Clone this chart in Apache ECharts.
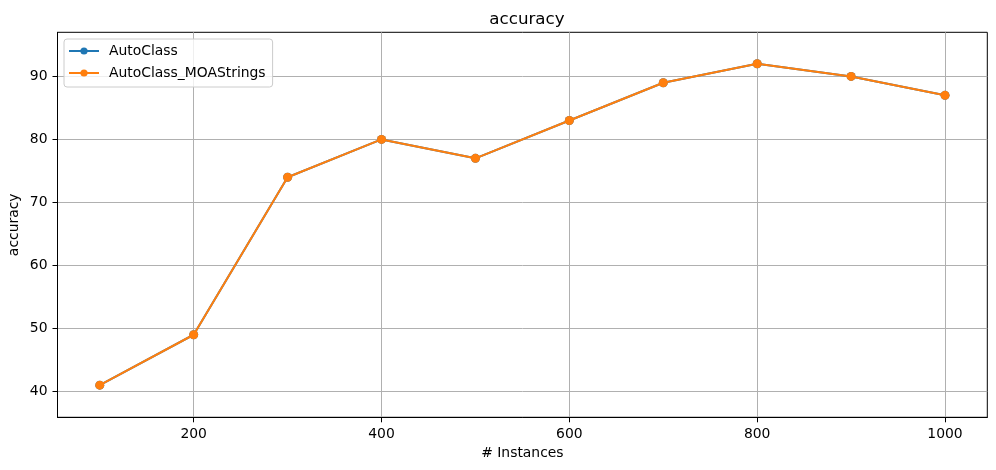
<!DOCTYPE html>
<html>
<head>
<meta charset="utf-8">
<script src="https://cdn.jsdelivr.net/npm/echarts@6/dist/echarts.min.js"></script>
<style>
html,body{margin:0;padding:0;background:#fff;}
#chart{width:996px;height:470px;}
</style>
</head>
<body>
<div id="chart"></div>
<script>
const instances = [100, 200, 300, 400, 500, 600, 700, 800, 900, 1000];
const autoClass = [41, 49, 74, 80, 77, 83, 89, 92, 90, 87];
const autoClassMOAStrings = [41, 49, 74, 80, 77, 83, 89, 92, 90, 87];
const xTicks = [200, 400, 600, 800, 1000];
const yTicks = [40, 50, 60, 70, 80, 90];
const seriesNames = ['AutoClass', 'AutoClass_MOAStrings'];

const font = 'DejaVu Sans';
const chart = echarts.init(document.getElementById('chart'), null, {renderer: 'canvas'});

function pairs(xs, ys) { return xs.map((x, i) => [x, ys[i]]); }

const axisCommon = {
  axisLine: {show: true, onZero: false, lineStyle: {color: '#000', width: 1}},
  axisTick: {show: true, inside: false, length: 5, lineStyle: {color: '#000', width: 1}},
  axisLabel: {color: '#000', fontFamily: font, fontSize: 13.9, margin: 10, formatter: v => String(v)},
  splitLine: {show: true, lineStyle: {color: '#b0b0b0', width: 1}},
  nameTextStyle: {color: '#000', fontFamily: font, fontSize: 13.9},
  nameMoveOverlap: false
};

chart.setOption({
  animation: false,
  backgroundColor: '#fff',
  title: {
    text: 'accuracy',
    left: 522,
    textAlign: 'center',
    top: 6,
    textStyle: {fontFamily: font, fontSize: 16.7, fontWeight: 'normal', color: '#000'}
  },
  legend: {
    orient: 'vertical',
    left: 64,
    top: 39,
    padding: [5, 7, 7, 4],
    itemWidth: 30,
    itemHeight: 9,
    itemGap: 8,
    backgroundColor: 'rgba(255,255,255,0.8)',
    borderColor: '#cccccc',
    borderWidth: 1,
    borderRadius: 3,
    textStyle: {fontFamily: font, fontSize: 13.9, color: '#000', padding: [0, 0, 0, 5]},
    data: seriesNames
  },
  grid: {left: 57.5, right: 8.7, top: 32.3, bottom: 52.7, containLabel: false, outerBoundsMode: 'none', show: true, borderColor: '#000', borderWidth: 1, backgroundColor: 'transparent'},
  xAxis: Object.assign({}, axisCommon, {
    type: 'value',
    min: 55,
    max: 1045,
    name: '# Instances',
    nameLocation: 'middle',
    nameGap: 29,
    axisTick: Object.assign({}, axisCommon.axisTick, {customValues: xTicks}),
    axisLabel: Object.assign({}, axisCommon.axisLabel, {customValues: xTicks})
  }),
  yAxis: Object.assign({}, axisCommon, {
    type: 'value',
    min: 35.9,
    max: 97,
    name: 'accuracy',
    nameLocation: 'middle',
    nameGap: 36,
    axisTick: Object.assign({}, axisCommon.axisTick, {customValues: yTicks}),
    axisLabel: Object.assign({}, axisCommon.axisLabel, {customValues: yTicks})
  }),
  series: [
    {
      name: seriesNames[0], type: 'line', data: pairs(instances, autoClass),
      symbol: 'circle', symbolSize: 9, showSymbol: true,
      itemStyle: {color: '#1f77b4'}, lineStyle: {color: '#1f77b4', width: 2}, z: 2
    },
    {
      name: seriesNames[1], type: 'line', data: pairs(instances, autoClassMOAStrings),
      symbol: 'circle', symbolSize: 9, showSymbol: true,
      itemStyle: {color: '#ff7f0e'}, lineStyle: {color: '#ff7f0e', width: 2}, z: 3
    }
  ]
});
</script>
</body>
</html>
